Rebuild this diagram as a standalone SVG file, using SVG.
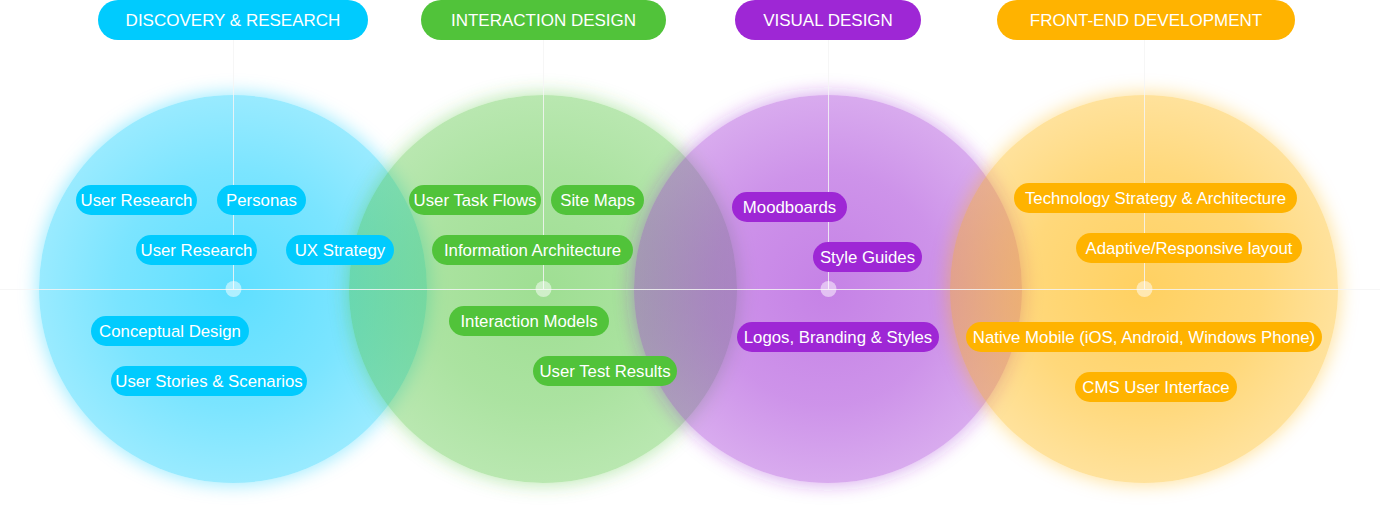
<svg xmlns="http://www.w3.org/2000/svg" width="1380" height="514" viewBox="0 0 1380 514">
<style>
.hd{font-family:"Liberation Sans",Arial,sans-serif;font-size:17px;fill:#fff;text-anchor:middle}
.tg{font-family:"Liberation Sans",Arial,sans-serif;font-size:16.8px;fill:#fff;text-anchor:middle}
.b{fill:#00cbfe}.g{fill:#51c33a}.p{fill:#9e27d5}.o{fill:#ffb300}
.ln{stroke:#f4f4f4;stroke-opacity:.85;stroke-width:1;fill:none}
.dot{fill:#fff;fill-opacity:.5}
</style>
<defs>
<filter id="blur" x="-30%" y="-30%" width="160%" height="160%"><feGaussianBlur stdDeviation="9"/></filter>
<mask id="out" maskUnits="userSpaceOnUse" x="-280" y="-280" width="560" height="560">
<rect x="-280" y="-280" width="560" height="560" fill="#fff"/>
<circle r="194" fill="#000"/>
</mask>
<radialGradient id="gB"><stop offset="0" stop-color="#00ccff" stop-opacity=".63"/><stop offset=".6" stop-color="#00ccff" stop-opacity=".52"/><stop offset="1" stop-color="#00ccff" stop-opacity=".4"/></radialGradient>
<radialGradient id="gG"><stop offset="0" stop-color="#50c43a" stop-opacity=".55"/><stop offset=".6" stop-color="#50c43a" stop-opacity=".48"/><stop offset="1" stop-color="#50c43a" stop-opacity=".4"/></radialGradient>
<radialGradient id="gP"><stop offset="0" stop-color="#9c27d4" stop-opacity=".58"/><stop offset=".6" stop-color="#9c27d4" stop-opacity=".5"/><stop offset="1" stop-color="#9c27d4" stop-opacity=".39"/></radialGradient>
<radialGradient id="gO"><stop offset="0" stop-color="#ffb400" stop-opacity=".62"/><stop offset=".6" stop-color="#ffb400" stop-opacity=".52"/><stop offset="1" stop-color="#ffb400" stop-opacity=".39"/></radialGradient>
</defs>
<rect width="1380" height="514" fill="#fff"/>
<g id="circles">
<g transform="translate(233,289)">
<circle r="196" fill="#00ccff" fill-opacity=".38" filter="url(#blur)" mask="url(#out)"/>
<circle r="194" fill="url(#gB)"/>
</g>
<g transform="translate(543,289)">
<circle r="196" fill="#50c43a" fill-opacity=".38" filter="url(#blur)" mask="url(#out)"/>
<circle r="194" fill="url(#gG)"/>
</g>
<g transform="translate(828,289)">
<circle r="196" fill="#9c27d4" fill-opacity=".38" filter="url(#blur)" mask="url(#out)"/>
<circle r="194" fill="url(#gP)"/>
</g>
<g transform="translate(1144,289)">
<circle r="196" fill="#ffb400" fill-opacity=".38" filter="url(#blur)" mask="url(#out)"/>
<circle r="194" fill="url(#gO)"/>
</g>
</g>
<g id="connectors">
<line class="ln" x1="0" y1="289.5" x2="1380" y2="289.5"/>
<line class="ln" x1="233.5" y1="40" x2="233.5" y2="289"/>
<line class="ln" x1="543.5" y1="40" x2="543.5" y2="289"/>
<line class="ln" x1="828.5" y1="40" x2="828.5" y2="289"/>
<line class="ln" x1="1144.5" y1="40" x2="1144.5" y2="289"/>
<circle class="dot" cx="233.5" cy="289" r="8"/>
<circle class="dot" cx="543.5" cy="289" r="8"/>
<circle class="dot" cx="828.5" cy="289" r="8"/>
<circle class="dot" cx="1144.5" cy="289" r="8"/>
</g>
<g id="h-discovery"><rect class="b" x="98" y="0" width="270" height="40" rx="20"/><text class="hd" x="233" y="26">DISCOVERY &amp; RESEARCH</text></g>
<g id="h-interaction"><rect class="g" x="421" y="0" width="245" height="40" rx="20"/><text class="hd" x="543.5" y="26">INTERACTION DESIGN</text></g>
<g id="h-visual"><rect class="p" x="735" y="0" width="186" height="40" rx="20"/><text class="hd" x="828" y="26">VISUAL DESIGN</text></g>
<g id="h-frontend"><rect class="o" x="997" y="0" width="298" height="40" rx="20"/><text class="hd" x="1146" y="26">FRONT-END DEVELOPMENT</text></g>

<g id="t-user-research-1"><rect class="b" x="76" y="185" width="121" height="30" rx="15"/><text class="tg" x="136.5" y="206">User Research</text></g>
<g id="t-personas"><rect class="b" x="217" y="185" width="89" height="30" rx="15"/><text class="tg" x="261.5" y="206">Personas</text></g>
<g id="t-user-research-2"><rect class="b" x="136" y="235" width="121" height="30" rx="15"/><text class="tg" x="196.5" y="256">User Research</text></g>
<g id="t-ux-strategy"><rect class="b" x="286" y="235" width="108" height="30" rx="15"/><text class="tg" x="340" y="256">UX Strategy</text></g>
<g id="t-conceptual"><rect class="b" x="91" y="316" width="158" height="30" rx="15"/><text class="tg" x="170" y="337">Conceptual Design</text></g>
<g id="t-stories"><rect class="b" x="111" y="366" width="196" height="30" rx="15"/><text class="tg" x="209" y="387">User Stories &amp; Scenarios</text></g>

<g id="t-task-flows"><rect class="g" x="409" y="185" width="132" height="30" rx="15"/><text class="tg" x="475" y="206">User Task Flows</text></g>
<g id="t-site-maps"><rect class="g" x="551" y="185" width="93" height="30" rx="15"/><text class="tg" x="597.5" y="206">Site Maps</text></g>
<g id="t-info-arch"><rect class="g" x="432" y="235" width="201" height="30" rx="15"/><text class="tg" x="532.5" y="256">Information Architecture</text></g>
<g id="t-interaction-models"><rect class="g" x="449" y="306" width="160" height="30" rx="15"/><text class="tg" x="529" y="327">Interaction Models</text></g>
<g id="t-test-results"><rect class="g" x="533" y="356" width="144" height="30" rx="15"/><text class="tg" x="605" y="377">User Test Results</text></g>

<g id="t-moodboards"><rect class="p" x="732" y="192" width="115" height="30" rx="15"/><text class="tg" x="789.5" y="213">Moodboards</text></g>
<g id="t-style-guides"><rect class="p" x="813" y="242" width="109" height="30" rx="15"/><text class="tg" x="867.5" y="263">Style Guides</text></g>
<g id="t-logos"><rect class="p" x="737" y="322" width="202" height="30" rx="15"/><text class="tg" x="838" y="343">Logos, Branding &amp; Styles</text></g>

<g id="t-tech-strategy"><rect class="o" x="1014" y="183" width="283" height="30" rx="15"/><text class="tg" x="1155.5" y="204">Technology Strategy &amp; Architecture</text></g>
<g id="t-adaptive"><rect class="o" x="1076" y="233" width="226" height="30" rx="15"/><text class="tg" x="1189" y="254">Adaptive/Responsive layout</text></g>
<g id="t-native"><rect class="o" x="966" y="322" width="356" height="30" rx="15"/><text class="tg" x="1144" y="343">Native Mobile (iOS, Android, Windows Phone)</text></g>
<g id="t-cms"><rect class="o" x="1075" y="372" width="162" height="30" rx="15"/><text class="tg" x="1156" y="393">CMS User Interface</text></g>
</svg>
